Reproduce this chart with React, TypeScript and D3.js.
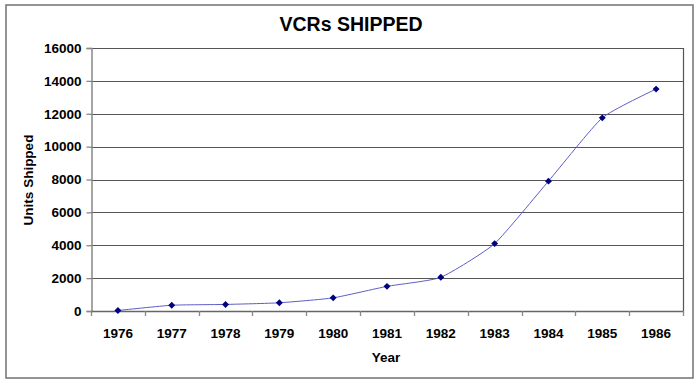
import { useEffect, useRef } from "react"
import * as d3 from "d3"

const years = ["1976", "1977", "1978", "1979", "1980", "1981", "1982", "1983", "1984", "1985", "1986"]
const unitsShipped = [30, 350, 400, 500, 800, 1500, 2050, 4100, 7900, 11750, 13500]
const yTicks = [0, 2000, 4000, 6000, 8000, 10000, 12000, 14000, 16000]

const W = 700
const H = 385
const FONT = "'Liberation Sans', Arial, sans-serif"

export default function App() {
  const svgRef = useRef<SVGSVGElement>(null)

  useEffect(() => {
    const svg = d3.select(svgRef.current!)
    svg.selectAll("*").remove()

    const plot = { left: 91, right: 683, top: 48, bottom: 311 }

    const x = d3.scaleBand<string>().domain(years).range([plot.left, plot.right])
    const y = d3.scaleLinear().domain([0, 16000]).range([plot.bottom, plot.top])

    // outer frame
    svg
      .append("rect")
      .attr("x", 6)
      .attr("y", 5)
      .attr("width", 687)
      .attr("height", 373)
      .attr("fill", "#fff")
      .attr("stroke", "#7a7a7a")
      .attr("stroke-width", 1.6)

    svg
      .append("text")
      .attr("x", 351)
      .attr("y", 31)
      .attr("text-anchor", "middle")
      .attr("font-family", FONT)
      .attr("font-weight", "bold")
      .attr("font-size", 19.5)
      .text("VCRs SHIPPED")

    // gridlines
    svg
      .append("g")
      .selectAll("line")
      .data(yTicks.filter((t) => t > 0))
      .enter()
      .append("line")
      .attr("x1", plot.left)
      .attr("x2", plot.right)
      .attr("y1", (d) => Math.round(y(d)) + 0.5)
      .attr("y2", (d) => Math.round(y(d)) + 0.5)
      .attr("stroke", "#555")
      .attr("stroke-width", 1.2)

    // right border of plot area
    svg
      .append("line")
      .attr("x1", plot.right + 0.5)
      .attr("x2", plot.right + 0.5)
      .attr("y1", plot.top)
      .attr("y2", plot.bottom)
      .attr("stroke", "#555")
      .attr("stroke-width", 1.2)

    // y axis
    const yAxis = d3
      .axisLeft(y)
      .tickValues(yTicks)
      .tickSize(5)
      .tickPadding(5)
      .tickFormat((d) => String(d))
    const yg = svg.append("g").attr("transform", `translate(${plot.left + 0.5},0)`).call(yAxis)
    yg.select(".domain").attr("stroke", "#888").attr("stroke-width", 1.5)
    yg.selectAll(".tick line").attr("stroke", "#888").attr("stroke-width", 1.3)
    yg.selectAll("text")
      .attr("font-family", FONT)
      .attr("font-weight", "bold")
      .attr("font-size", 13.5)
      .attr("fill", "#000")

    // x axis with ticks between categories
    svg
      .append("line")
      .attr("x1", plot.left)
      .attr("x2", plot.right + 1)
      .attr("y1", plot.bottom + 0.5)
      .attr("y2", plot.bottom + 0.5)
      .attr("stroke", "#666")
      .attr("stroke-width", 1.3)
    const edges = years.map((yr) => x(yr)!).concat([plot.right])
    svg
      .append("g")
      .selectAll("line")
      .data(edges)
      .enter()
      .append("line")
      .attr("x1", (d) => Math.round(d) + 0.5)
      .attr("x2", (d) => Math.round(d) + 0.5)
      .attr("y1", plot.bottom)
      .attr("y2", plot.bottom + 5)
      .attr("stroke", "#888")
      .attr("stroke-width", 1.3)
    svg
      .append("g")
      .selectAll("text")
      .data(years)
      .enter()
      .append("text")
      .attr("x", (d) => x(d)! + x.bandwidth() / 2)
      .attr("y", 338)
      .attr("text-anchor", "middle")
      .attr("font-family", FONT)
      .attr("font-weight", "bold")
      .attr("font-size", 13.5)
      .text((d) => d)

    // axis titles
    svg
      .append("text")
      .attr("x", 386)
      .attr("y", 362)
      .attr("text-anchor", "middle")
      .attr("font-family", FONT)
      .attr("font-weight", "bold")
      .attr("font-size", 13.5)
      .text("Year")
    svg
      .append("text")
      .attr("transform", `translate(33,180) rotate(-90)`)
      .attr("text-anchor", "middle")
      .attr("font-family", FONT)
      .attr("font-weight", "bold")
      .attr("font-size", 13.5)
      .text("Units Shipped")

    // series
    const pts = years.map((yr, i) => [x(yr)! + x.bandwidth() / 2, y(unitsShipped[i])] as [number, number])
    const line = d3.line().curve(d3.curveCardinal.tension(0.5))
    svg
      .append("path")
      .attr("d", line(pts))
      .attr("fill", "none")
      .attr("stroke", "#5c5cc8")
      .attr("stroke-width", 1)

    // square turned 45° = Excel-style diamond marker
    const marker = d3.symbol().type(d3.symbolSquare).size(24)
    svg
      .append("g")
      .selectAll("path")
      .data(pts)
      .enter()
      .append("path")
      .attr("transform", (d) => `translate(${d[0]},${d[1]}) rotate(45)`)
      .attr("d", marker())
      .attr("fill", "#000080")
  }, [])

  return (
    <svg
      ref={svgRef}
      width={W}
      height={H}
      style={{ position: "absolute", left: 0, top: 0, background: "#fff" }}
    />
  )
}
